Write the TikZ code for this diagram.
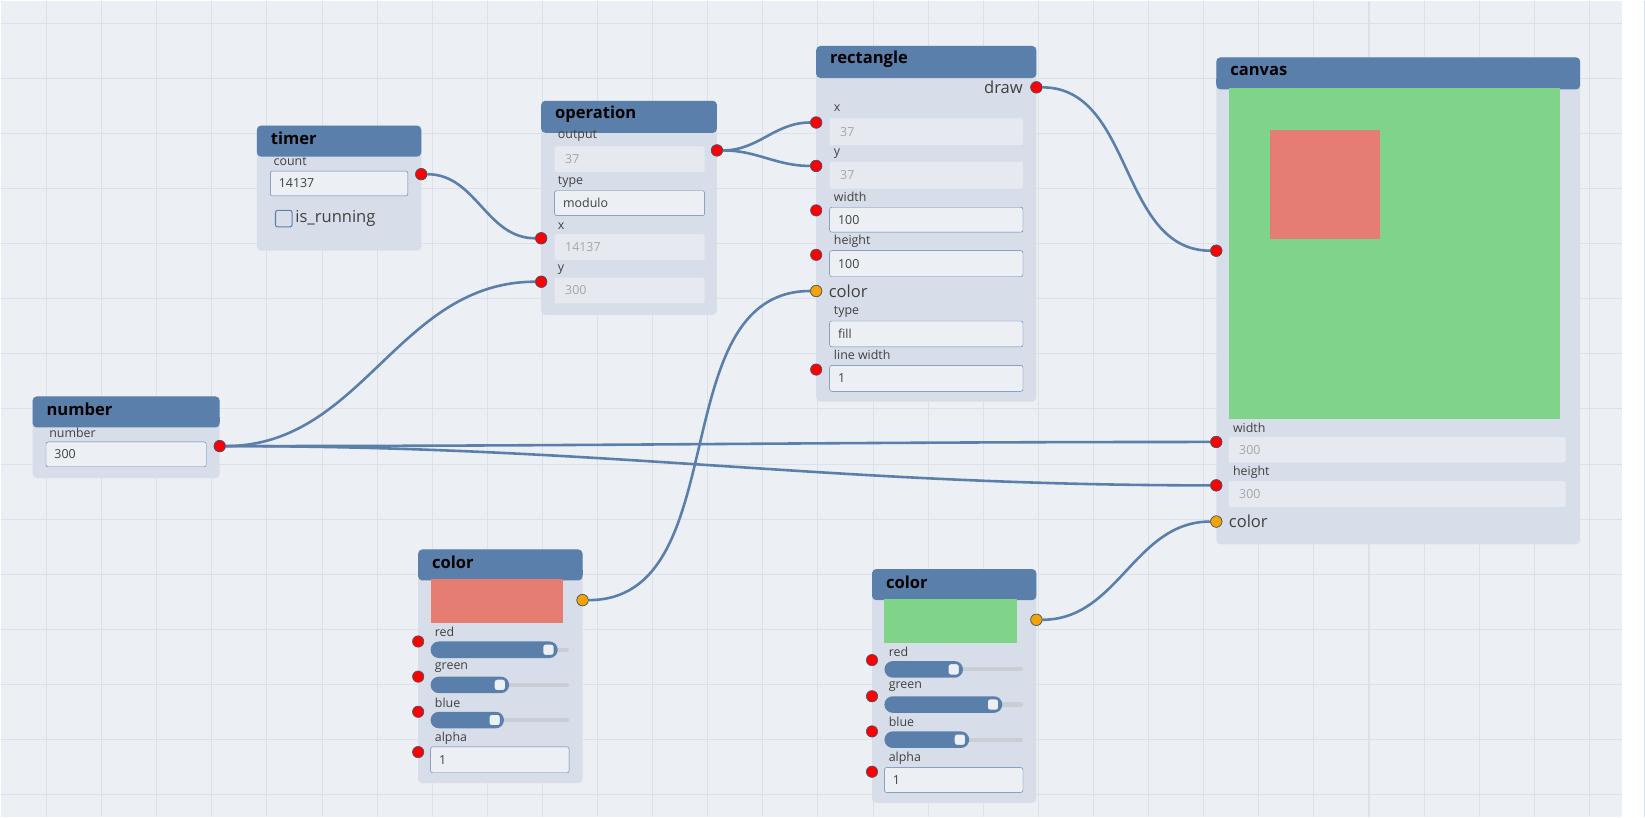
\documentclass[tikz,border=0pt]{standalone}
\usepackage{fontspec}
\setmainfont{Open Sans}
\definecolor{bg}{HTML}{ECEFF4}
\definecolor{gridc}{HTML}{DCE0E9}
\definecolor{head}{HTML}{5B7FAB}
\definecolor{body}{HTML}{D8DEE9}
\definecolor{fieldro}{HTML}{E6E9F0}
\definecolor{wirec}{HTML}{5B7FAB}
\definecolor{swred}{HTML}{E57D73}
\definecolor{swgreen}{HTML}{7FD48A}
\definecolor{porto}{HTML}{F5A300}
\newcommand{\panel}[6]{% x1 y1 x2 y2 header-bottom title
  \fill[body, rounded corners=4pt] (#1,#2) rectangle (#3,#4);
  \fill[head, rounded corners=4pt] (#1,#2) rectangle (#3,#5+5);
  \fill[head] (#1,#5-5) rectangle (#3,#5);
  \node[title] at (#1+10,{(#2+#5)/2}) {#6};}
\newcommand{\lbl}[3]{\node[lbl] at (#1,#2) {#3};}
\newcommand{\rofield}[5]{% read-only value
  \fill[fieldro, rounded corners=2pt] (#1,#2) rectangle (#3,#4);
  \node[lbl, text=gray!70] at (#1+10,{(#2+#4)/2}) {#5};}
\newcommand{\infield}[5]{% editable value
  \filldraw[fill=bg, draw=head, rounded corners=2pt] (#1,#2) rectangle (#3,#4);
  \node[lbl] at (#1+8,{(#2+#4)/2}) {#5};}
\newcommand{\slider}[4]{% x1 x2 y knob
  \draw[line width=4pt, gridc!80!gray, line cap=round] (#1+10,#3) -- (#2-2,#3);
  \fill[head, rounded corners=8pt] (#1,#3-8) rectangle (#4+9,#3+8);
  \filldraw[fill=bg, draw=head, line width=2pt, rounded corners=3pt] (#4-6,#3-6) rectangle (#4+6,#3+6);}
\begin{document}
\begin{tikzpicture}[x=1pt, y=-1pt]
  \tikzset{title/.style={anchor=west, font=\fontsize{16}{18}\selectfont\bfseries},
    lbl/.style={anchor=west, inner sep=0pt, font=\fontsize{12}{14}\selectfont, text=black!75},
    big/.style={anchor=west, inner sep=0pt, font=\fontsize{16}{18}\selectfont, text=black!75},
    port/.style={circle, draw=head!70!black, fill=red, minimum size=11pt, inner sep=0pt, line width=0.6pt},
    cport/.style={port, fill=porto},
    wire/.style={draw=wirec, line width=2.5pt}}
  \fill[bg] (0,0) rectangle (1568,790);
  \foreach \i in {0,...,29} \draw[gridc, line width=1pt] (44.5+53.3*\i,0) -- (44.5+53.3*\i,790);
  \foreach \j in {0,...,14} \draw[gridc, line width=1pt] (0,22+53.3*\j) -- (1568,22+53.3*\j);
  \useasboundingbox (0,0) rectangle (1568,790);

  % timer
  \panel{248}{121}{407}{242}{146}{timer}
  \lbl{264}{156}{count}
  \infield{261}{165}{394}{189}{14137}
  \draw[head, rounded corners=2pt, line width=1pt] (266,203) rectangle (282,219);
  \node[big] at (285,211) {is\_running};
  \node[port] (tcount) at (407,168) {};

  % operation
  \panel{523}{97}{693}{304}{123}{operation}
  \lbl{539}{131}{output}
  \rofield{536}{141}{681}{166}{37}
  \lbl{539}{175}{type}
  \infield{536}{184}{681}{208}{modulo}
  \lbl{539}{218}{x}
  \rofield{536}{226}{681}{251}{14137}
  \lbl{539}{260}{y}
  \rofield{536}{268}{681}{293}{300}
  \node[port] (oout) at (693,145) {};
  \node[port] (ox) at (523,230) {};
  \node[port] (oy) at (523,272) {};

  % rectangle
  \panel{789}{44}{1002}{388}{70}{rectangle}
  \node[big, anchor=east] at (989,84) {draw};
  \lbl{806}{104}{x}
  \rofield{802}{114}{989}{140}{37}
  \lbl{806}{148}{y}
  \rofield{802}{156}{989}{182}{37}
  \lbl{806}{190}{width}
  \infield{802}{200}{989}{224}{100}
  \lbl{806}{233}{height}
  \infield{802}{242}{989}{267}{100}
  \node[big] at (801,281) {color};
  \lbl{806}{301}{type}
  \infield{802}{310}{989}{335}{fill}
  \lbl{806}{343}{line width}
  \infield{802}{353}{989}{378}{1}
  \node[port] (rdraw) at (1002,84) {};
  \node[port] (rx) at (789,118) {};
  \node[port] (ry) at (789,160) {};
  \node[port] (rw) at (789,203) {};
  \node[port] (rh) at (789,246) {};
  \node[cport] (rcol) at (789,281) {};
  \node[port] (rlw) at (789,357) {};

  % canvas
  \panel{1176}{55}{1528}{526}{81}{canvas}
  \fill[swgreen] (1188,85) rectangle (1508,405);
  \fill[swred] (1228,125) rectangle (1334,231);
  \lbl{1192}{413}{width}
  \rofield{1188}{422}{1514}{447}{300}
  \lbl{1192}{456}{height}
  \rofield{1188}{465}{1514}{490}{300}
  \node[big] at (1188,504) {color};
  \node[port] (cin) at (1176,242) {};
  \node[port] (cw) at (1176,427) {};
  \node[port] (ch) at (1176,469) {};
  \node[cport] (ccol) at (1176,504) {};

  % number
  \panel{31}{383}{212}{462}{408}{number}
  \lbl{47}{418}{number}
  \infield{44}{427}{199}{451}{300}
  \node[port] (nout) at (212,431) {};

  % color (red)
  \panel{404}{531}{563}{757}{556}{color}
  \fill[swred] (416,560) rectangle (544,602);
  \lbl{420}{611}{red}
  \slider{416}{550}{628}{530}
  \lbl{420}{645}{green}
  \slider{416}{550}{662}{483}
  \lbl{420}{679}{blue}
  \slider{416}{550}{696}{478}
  \lbl{420}{714}{alpha}
  \infield{416}{722}{550}{747}{1}
  \node[cport] (aout) at (563,580) {};
  \node[port] (ar) at (404,620) {};
  \node[port] (ag) at (404,654) {};
  \node[port] (ab) at (404,688) {};
  \node[port] (aa) at (404,727) {};

  % color (green)
  \panel{843}{550}{1002}{776}{575}{color}
  \fill[swgreen] (855,579) rectangle (983,621);
  \lbl{859}{630}{red}
  \slider{855}{989}{647}{922}
  \lbl{859}{664}{green}
  \slider{855}{989}{681}{960}
  \lbl{859}{698}{blue}
  \slider{855}{989}{715}{928}
  \lbl{859}{733}{alpha}
  \infield{855}{742}{989}{766}{1}
  \node[cport] (bout) at (1002,599) {};
  \node[port] (br) at (843,638) {};
  \node[port] (bg) at (843,673) {};
  \node[port] (bb) at (843,707) {};
  \node[port] (ba) at (843,746) {};

  % wires
  \begin{scope}[on background layer/.style={}]
  \draw[wire] (tcount) to[out=0, in=180] (ox);
  \draw[wire] (nout) to[out=0, in=180] (oy);
  \draw[wire] (oout) to[out=0, in=180] (rx);
  \draw[wire] (oout) to[out=0, in=180] (ry);
  \draw[wire] (rdraw) to[out=0, in=180] (cin);
  \draw[wire] (aout) to[out=0, in=180] (rcol);
  \draw[wire] (nout) to[out=0, in=180] (cw);
  \draw[wire] (nout) to[out=0, in=180] (ch);
  \draw[wire] (bout) to[out=0, in=180] (ccol);
  \end{scope}
  % ports on top of wires
  \foreach \p/\c in {tcount/red, ox/red, oy/red, oout/red, rx/red, ry/red, rdraw/red, cin/red,
      cw/red, ch/red, nout/red, rcol/porto, aout/porto, bout/porto, ccol/porto}
    \node[port, fill=\c] at (\p) {};
\end{tikzpicture}
\end{document}
